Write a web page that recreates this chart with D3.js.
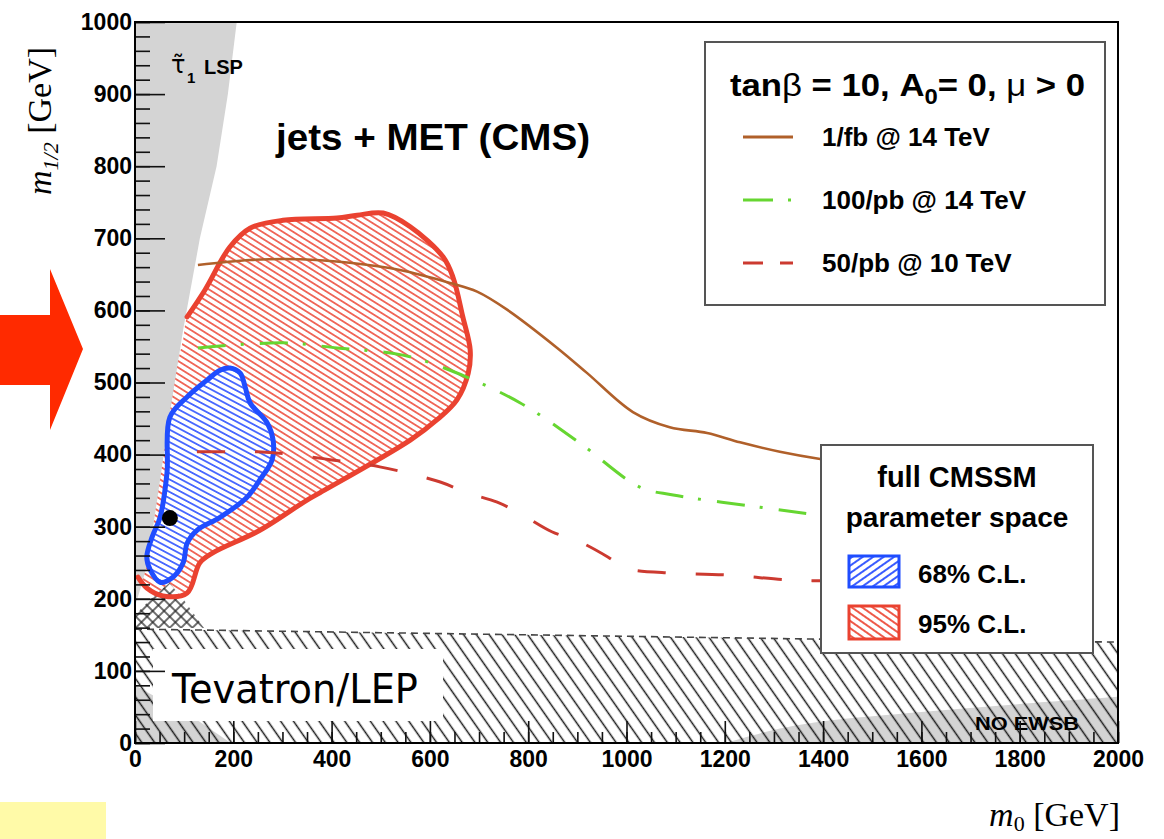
<!DOCTYPE html>
<html>
<head>
<meta charset="utf-8">
<script src="https://cdn.jsdelivr.net/npm/d3@7"></script>
<style>
  body { margin: 0; background: #fff; }
  svg { display: block; }
</style>
</head>
<body>
<svg id="chart" width="1164" height="839"></svg>
<script>
// ---------- axis ticks ----------
const xMajorTicks = [0, 200, 400, 600, 800, 1000, 1200, 1400, 1600, 1800, 2000];
const yMajorTicks = [0, 100, 200, 300, 400, 500, 600, 700, 800, 900, 1000];

// ---------- reach curves (m0, m1/2) ----------
const reach1fbM0   = [128, 234, 336, 437, 539, 641, 696, 757, 859, 920, 1013, 1088, 1164, 1231, 1312, 1394, 1450];
const reach1fbM12  = [663, 670, 671, 666, 656, 638, 626, 601, 548, 513, 459, 438, 430, 417, 404, 394, 389];
const reach100pbM0  = [128, 301, 411, 545, 641, 783, 905, 1027, 1095, 1272, 1394, 1450];
const reach100pbM12 = [548, 555, 548, 538, 517, 472, 416, 355, 344, 327, 316, 313];
const reach50pbM0   = [126, 187, 250, 309, 397, 498, 621, 675, 737, 789, 848, 905, 962, 993, 1013, 1082, 1204, 1333, 1394, 1450];
const reach50pbM12  = [404, 404, 404, 401, 393, 383, 362, 347, 334, 316, 293, 279, 258, 244, 240, 236, 233, 226, 225, 224];

// ---------- CMSSM fit regions ----------
const cl95M0  = [106, 142, 193, 234, 301, 411, 452, 505, 560, 627, 647, 667, 682, 678, 655, 614, 560, 376, 350, 254, 159, 132, 106, 57, 24, 6, 4, 18, 38, 58, 80, 98];
const cl95M12 = [591, 628, 688, 714, 725, 728, 732, 735, 716, 674, 646, 591, 545, 513, 476, 448, 420, 347, 337, 295, 264, 250, 208, 204, 215, 230, 245, 300, 370, 440, 510, 560];
const cl95OutlineCount = 26;   // outline drawn along the first points only
const cl68M0  = [193, 214, 224, 234, 269, 281, 279, 254, 228, 173, 126, 106, 98, 77, 51, 31, 24, 35, 51, 65, 71, 106, 146, 173];
const cl68M12 = [520, 513, 494, 472, 444, 420, 393, 365, 341, 313, 295, 277, 250, 230, 223, 240, 258, 286, 313, 374, 452, 480, 503, 517];
const bestFit = [71, 312];

// ---------- excluded / theory regions ----------
const stauM0  = [0, 207, 189, 166, 132, 98, 71, 45, 26, 10, 0];
const stauM12 = [1000, 1000, 900, 800, 700, 573, 458, 337, 250, 212, 190];
const lowCornerM0  = [0, 195, 130, 0];
const lowCornerM12 = [0, 0, 30, 80];
const noEwsbM0  = [1200, 1300, 1400, 1600, 1800, 2000];
const noEwsbM12 = [0, 18, 30, 43, 54, 64];
const tevTopM0  = [0, 500, 1000, 1500, 2000];
const tevTopM12 = [158, 153, 148, 143, 140];
const bumpM0  = [0, 0, 40, 70, 100, 140];
const bumpM12 = [160, 178, 205, 222, 198, 160];

const colBrown = "#b0602a", colGreen = "#66d631", colDashRed = "#cc3a30";
const colRed = "#ea4230", colBlue = "#1f4dff";

const svg = d3.select("#chart");
const x = d3.scaleLinear().domain([0, 2000]).range([135, 1118]);
const y = d3.scaleLinear().domain([0, 1000]).range([743, 22]);

const zip = (a, b) => a.map((v, i) => [v, b[i]]);
const line = d3.line().x(d => x(d[0])).y(d => y(d[1]));
const smooth = d3.line().x(d => x(d[0])).y(d => y(d[1])).curve(d3.curveCatmullRom.alpha(0.5));
const smoothClosed = d3.line().x(d => x(d[0])).y(d => y(d[1])).curve(d3.curveCatmullRomClosed.alpha(0.5));

// ---------- patterns ----------
const defs = svg.append("defs");
function hatch(id, size, angle, color, width, bg) {
  const p = defs.append("pattern").attr("id", id)
    .attr("patternUnits", "userSpaceOnUse")
    .attr("width", size).attr("height", size)
    .attr("patternTransform", `rotate(${angle})`);
  if (bg) p.append("rect").attr("width", size).attr("height", size).attr("fill", bg);
  p.append("line").attr("x1", 0).attr("x2", size).attr("y1", size / 2).attr("y2", size / 2)
    .attr("stroke", color).attr("stroke-width", width);
}
hatch("redHatch", 5.5, 32, "#ee5a4a", 1.7, "#fff");
hatch("blueHatch", 5.5, 28, "#3a5cff", 1.7, "#fff");
hatch("redHatchKey", 6, 35, "#ee5a4a", 2, "#fff");
hatch("blueHatchKey", 6, -35, "#3a5cff", 2, "#fff");
hatch("tevHatch", 10.5, 55, "#1a1a1a", 1.5, null);
hatch("crossA", 8, 45, "#222", 1.3, null);
hatch("crossB", 8, -45, "#222", 1.3, null);

defs.append("clipPath").attr("id", "plotClip")
  .append("rect").attr("x", 135).attr("y", 22).attr("width", 983).attr("height", 721);

// ---------- page decorations ----------
svg.append("rect").attr("x", 0).attr("y", 802).attr("width", 106).attr("height", 37).attr("fill", "#fffaa8");
svg.append("polygon")
  .attr("points", "0,315 50,315 50,269 83,349 50,430 50,385 0,385")
  .attr("fill", "#ff2a00");

const plot = svg.append("g").attr("clip-path", "url(#plotClip)");

// NO EWSB and low corner gray
plot.append("path").attr("d", smooth(zip(noEwsbM0, noEwsbM12)) +
  `L${x(2000)},${y(0)}Z`).attr("fill", "#d4d4d4");
plot.append("path").attr("d", line(zip(lowCornerM0, lowCornerM12)) + "Z").attr("fill", "#d4d4d4");

// Tevatron/LEP excluded band
const tevPoly = zip(tevTopM0, tevTopM12).concat([[2000, 0], [0, 0]]);
plot.append("path").attr("d", line(tevPoly) + "Z").attr("fill", "url(#tevHatch)");
plot.append("path").attr("d", line(zip(tevTopM0, tevTopM12)))
  .attr("fill", "none").attr("stroke", "#444").attr("stroke-width", 1.6).attr("stroke-dasharray", "7,5");

// 95% C.L. region
const cl95 = zip(cl95M0, cl95M12);
plot.append("path").attr("d", smoothClosed(cl95)).attr("fill", "url(#redHatch)");

// stau LSP wedge
plot.append("path").attr("d", line(zip(stauM0, stauM12)) + "Z").attr("fill", "#d4d4d4");

// cross-hatched bump on top of the band
const bump = line(zip(bumpM0, bumpM12)) + "Z";
plot.append("path").attr("d", bump).attr("fill", "#fff");
plot.append("path").attr("d", bump).attr("fill", "url(#crossA)");
plot.append("path").attr("d", bump).attr("fill", "url(#crossB)");

plot.append("path").attr("d", smooth(cl95.slice(0, cl95OutlineCount)))
  .attr("fill", "none").attr("stroke", colRed).attr("stroke-width", 5)
  .attr("stroke-linejoin", "round").attr("stroke-linecap", "round");

// 68% C.L. region
const cl68 = zip(cl68M0, cl68M12);
plot.append("path").attr("d", smoothClosed(cl68)).attr("fill", "url(#blueHatch)")
  .attr("stroke", colBlue).attr("stroke-width", 5).attr("stroke-linejoin", "round");

// reach curves
plot.append("path").attr("d", smooth(zip(reach1fbM0, reach1fbM12)))
  .attr("fill", "none").attr("stroke", colBrown).attr("stroke-width", 2.6);
plot.append("path").attr("d", smooth(zip(reach100pbM0, reach100pbM12)))
  .attr("fill", "none").attr("stroke", colGreen).attr("stroke-width", 3)
  .attr("stroke-dasharray", "28,15,3,16");
plot.append("path").attr("d", smooth(zip(reach50pbM0, reach50pbM12)))
  .attr("fill", "none").attr("stroke", colDashRed).attr("stroke-width", 3)
  .attr("stroke-dasharray", "28,30");

// best fit point
plot.append("circle").attr("cx", x(bestFit[0])).attr("cy", y(bestFit[1])).attr("r", 8).attr("fill", "#000");

// ---------- in-plot labels ----------
const sans = "'Liberation Sans', Arial, Helvetica, sans-serif";
svg.append("rect").attr("x", 153).attr("y", 649).attr("width", 290).attr("height", 72).attr("fill", "#fff");
svg.append("text").attr("x", 172).attr("y", 703)
  .attr("font-family", "'DejaVu Sans', Verdana, sans-serif").attr("font-size", 40)
  .attr("textLength", 246).attr("lengthAdjust", "spacingAndGlyphs")
  .text("Tevatron/LEP");

svg.append("text").attr("x", 975).attr("y", 730).attr("font-family", sans).attr("font-weight", "bold")
  .attr("font-size", 19).attr("textLength", 104).attr("lengthAdjust", "spacingAndGlyphs").text("NO EWSB");

svg.append("text").attr("x", 171).attr("y", 73).attr("font-family", "'DejaVu Sans', sans-serif")
  .attr("font-size", 24).text("τ\u0303");
svg.append("text").attr("x", 187).attr("y", 83).attr("font-family", sans)
  .attr("font-size", 15).attr("font-weight", "bold").text("1");
svg.append("text").attr("x", 204).attr("y", 74).attr("font-family", sans)
  .attr("font-size", 20).attr("font-weight", "bold").text("LSP");

svg.append("text").attr("x", 276).attr("y", 150).attr("font-family", sans)
  .attr("font-size", 37).attr("font-weight", "bold")
  .attr("textLength", 314).attr("lengthAdjust", "spacingAndGlyphs").text("jets + MET (CMS)");

// ---------- luminosity legend ----------
svg.append("rect").attr("x", 705).attr("y", 42).attr("width", 400).attr("height", 263)
  .attr("fill", "#fff").attr("stroke", "#555").attr("stroke-width", 2);
const t1 = svg.append("text").attr("x", 730).attr("y", 96).attr("font-family", sans)
  .attr("font-size", 32).attr("font-weight", "bold")
  .attr("textLength", 355).attr("lengthAdjust", "spacingAndGlyphs");
t1.append("tspan").text("tan");
t1.append("tspan").attr("font-weight", "normal").text("β");
t1.append("tspan").text(" = 10, A");
t1.append("tspan").attr("font-size", 22).attr("dy", 8).text("0");
t1.append("tspan").attr("dy", -8).text("= 0, ");
t1.append("tspan").attr("font-weight", "normal").text("μ");
t1.append("tspan").text(" > 0");

const keyLabels = ["1/fb @ 14 TeV", "100/pb @ 14 TeV", "50/pb @ 10 TeV"];
const keyColors = [colBrown, colGreen, colDashRed];
const keyDash = [null, "30,15,3,20", "20,17"];
const keyY = [137, 200, 263];
keyLabels.forEach((lab, i) => {
  svg.append("line").attr("x1", 743).attr("x2", 793).attr("y1", keyY[i]).attr("y2", keyY[i])
    .attr("stroke", keyColors[i]).attr("stroke-width", i === 0 ? 3 : 3.2)
    .attr("stroke-dasharray", keyDash[i]);
  svg.append("text").attr("x", 822).attr("y", keyY[i] + 9).attr("font-family", sans)
    .attr("font-size", 26).attr("font-weight", "bold").text(lab);
});

// ---------- CMSSM fit legend ----------
svg.append("rect").attr("x", 821).attr("y", 445).attr("width", 272).attr("height", 208)
  .attr("fill", "#fff").attr("stroke", "#555").attr("stroke-width", 2);
svg.append("text").attr("x", 957).attr("y", 487).attr("text-anchor", "middle").attr("font-family", sans)
  .attr("font-size", 29).attr("font-weight", "bold").text("full CMSSM");
svg.append("text").attr("x", 957).attr("y", 527).attr("text-anchor", "middle").attr("font-family", sans)
  .attr("font-size", 28).attr("font-weight", "bold").text("parameter space");
svg.append("rect").attr("x", 849).attr("y", 556).attr("width", 50).attr("height", 31)
  .attr("fill", "url(#blueHatchKey)").attr("stroke", colBlue).attr("stroke-width", 3);
svg.append("rect").attr("x", 849).attr("y", 606).attr("width", 50).attr("height", 33)
  .attr("fill", "url(#redHatchKey)").attr("stroke", colRed).attr("stroke-width", 3);
svg.append("text").attr("x", 918).attr("y", 583).attr("font-family", sans)
  .attr("font-size", 26).attr("font-weight", "bold").text("68% C.L.");
svg.append("text").attr("x", 918).attr("y", 633).attr("font-family", sans)
  .attr("font-size", 26).attr("font-weight", "bold").text("95% C.L.");

// ---------- axes ----------
svg.append("g").attr("transform", "translate(135,0)")
  .call(d3.axisLeft(y).tickValues(yMajorTicks).tickSize(-30).tickPadding(3).tickFormat(d3.format("d")));
svg.append("g").attr("transform", "translate(135,0)")
  .call(d3.axisLeft(y).tickValues(d3.range(0, 1001, 20)).tickSize(-15).tickFormat(""));
svg.append("g").attr("transform", "translate(0,743)")
  .call(d3.axisBottom(x).tickValues(xMajorTicks).tickSize(-22).tickPadding(8).tickFormat(d3.format("d")));
svg.append("g").attr("transform", "translate(0,743)")
  .call(d3.axisBottom(x).tickValues(d3.range(0, 2001, 50)).tickSize(-11).tickFormat(""));

svg.selectAll(".domain").remove();
svg.selectAll(".tick line").attr("stroke", "#111").attr("stroke-width", 1.6);
svg.selectAll(".tick text").attr("font-family", sans).attr("font-weight", "bold")
  .attr("font-size", 23).attr("fill", "#000");

// frame
svg.append("rect").attr("x", 135).attr("y", 22).attr("width", 983).attr("height", 721)
  .attr("fill", "none").attr("stroke", "#000").attr("stroke-width", 2);

// axis titles
const serif = "'Liberation Serif', 'Times New Roman', serif";
const yt = svg.append("text").attr("transform", "translate(51,121) rotate(-90)")
  .attr("text-anchor", "middle").attr("font-family", serif).attr("font-size", 34);
yt.append("tspan").attr("font-style", "italic").text("m");
yt.append("tspan").attr("font-size", 22).attr("dy", 7).attr("font-style", "italic").text("1/2");
yt.append("tspan").attr("dy", -7).text(" [GeV]");

const xt = svg.append("text").attr("x", 1120).attr("y", 826)
  .attr("text-anchor", "end").attr("font-family", serif).attr("font-size", 34);
xt.append("tspan").attr("font-style", "italic").text("m");
xt.append("tspan").attr("font-size", 22).attr("dy", 5).text("0");
xt.append("tspan").attr("dy", -5).text(" [GeV]");
</script>
</body>
</html>
